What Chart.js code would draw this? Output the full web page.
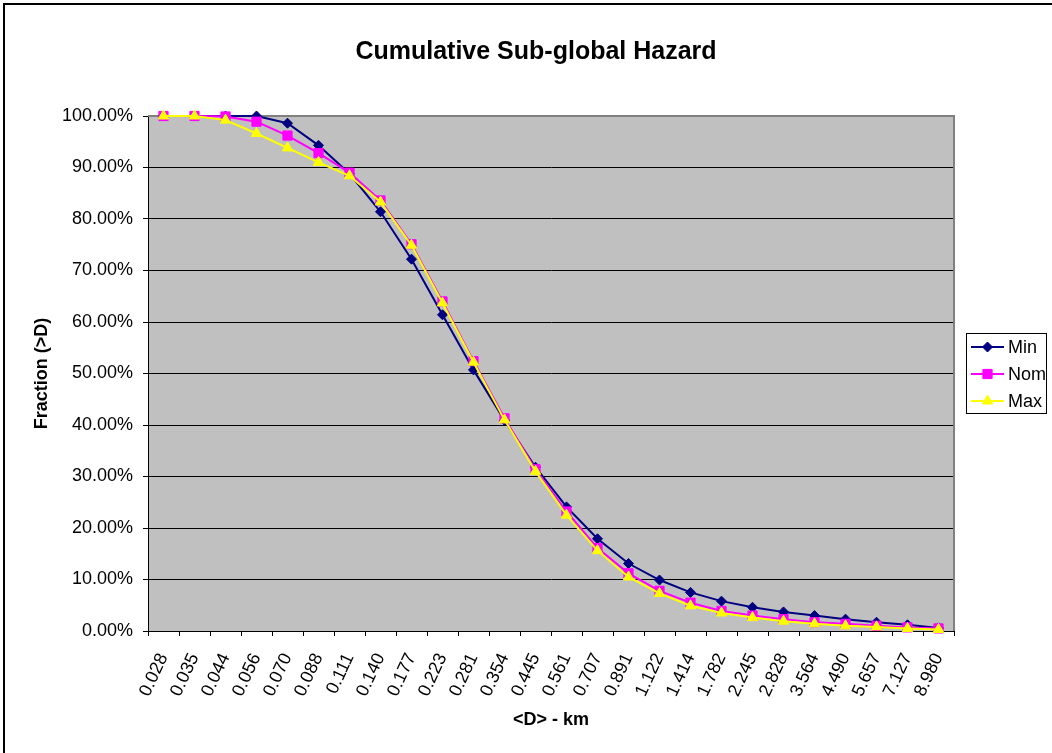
<!DOCTYPE html>
<html>
<head>
<meta charset="utf-8">
<title>Cumulative Sub-global Hazard</title>
<script src="https://cdn.jsdelivr.net/npm/chart.js@4.4.1/dist/chart.umd.min.js"></script>
<style>
  html, body { margin: 0; padding: 0; background: #fff; }
  #wrap { width: 1052px; height: 753px; }
</style>
</head>
<body>
<div id="wrap"><canvas id="hazard-chart" width="1052" height="753"></canvas></div>
<script>
const FONT = '"Liberation Sans", Arial, Helvetica, sans-serif';
const TITLE = 'Cumulative Sub-global Hazard';

// diameter bins, km
const diameters = ['0.028', '0.035', '0.044', '0.056', '0.070', '0.088', '0.111', '0.140', '0.177',
  '0.223', '0.281', '0.354', '0.445', '0.561', '0.707', '0.891', '1.122', '1.414', '1.782',
  '2.245', '2.828', '3.564', '4.490', '5.657', '7.127', '8.980'];

// fraction of impactors larger than D, percent
const minFraction = [100, 100, 100, 100, 98.6, 94.3, 88.8, 81.4, 72.2, 61.4, 50.7, 40.9, 31.8,
  24.1, 17.9, 13.1, 9.9, 7.5, 5.8, 4.6, 3.7, 3.0, 2.3, 1.7, 1.2, 0.6];
const nomFraction = [100, 100, 99.9, 98.9, 96.2, 92.8, 89.0, 83.6, 75.1, 64.0, 52.4, 41.3, 31.4,
  23.2, 16.1, 11.2, 7.8, 5.5, 3.9, 3.0, 2.3, 1.7, 1.4, 1.0, 0.7, 0.5];
const maxFraction = [100, 100, 99.2, 96.6, 93.8, 91.0, 88.4, 83.3, 74.9, 63.7, 52.2, 41.0, 31.0,
  22.5, 15.6, 10.5, 7.3, 4.9, 3.5, 2.6, 1.9, 1.4, 1.0, 0.8, 0.5, 0.3];

const yTicks = [0, 10, 20, 30, 40, 50, 60, 70, 80, 90, 100];

const series = [
  { label: 'Min', data: minFraction, color: '#000080', style: 'rectRot', radius: 5, order: 2 },
  { label: 'Nom', data: nomFraction, color: '#FF00FF', style: 'rect', radius: 6.5, order: 1 },
  { label: 'Max', data: maxFraction, color: '#FFFF00', style: 'triangle', radius: 6, order: 0 },
];

// white page with the frame line on the left and top, plus the title
const framePlugin = {
  id: 'frame',
  beforeDraw(chart) {
    const { ctx, width, height } = chart;
    ctx.save();
    ctx.fillStyle = '#fff';
    ctx.fillRect(0, 0, width, height);
    ctx.strokeStyle = '#000';
    ctx.lineWidth = 2;
    ctx.beginPath();
    ctx.moveTo(4, height);
    ctx.lineTo(4, 4);
    ctx.lineTo(width, 4);
    ctx.stroke();
    ctx.fillStyle = '#000';
    ctx.font = 'bold 25px ' + FONT;
    ctx.textAlign = 'center';
    ctx.textBaseline = 'middle';
    ctx.fillText(TITLE, 536, 52);
    ctx.restore();
  },
};

// grey plot area, grey border on top and right
const plotAreaPlugin = {
  id: 'plotArea',
  beforeDraw(chart) {
    const { ctx, chartArea: a } = chart;
    ctx.save();
    ctx.fillStyle = '#C0C0C0';
    ctx.fillRect(a.left, a.top, a.right - a.left, a.bottom - a.top);
    ctx.restore();
  },
  beforeDatasetsDraw(chart) {
    const { ctx, chartArea: a } = chart;
    ctx.save();
    ctx.strokeStyle = '#808080';
    ctx.lineWidth = 2;
    ctx.beginPath();
    ctx.moveTo(a.left, a.top);
    ctx.lineTo(a.right, a.top);
    ctx.lineTo(a.right, a.bottom);
    ctx.stroke();
    ctx.restore();
  },
};

// boxed legend to the right of the plot
const boxLegendPlugin = {
  id: 'boxLegend',
  afterDraw(chart) {
    const { ctx } = chart;
    const box = { x: 966, y: 333, w: 80, h: 80 };
    ctx.save();
    ctx.fillStyle = '#fff';
    ctx.fillRect(box.x, box.y, box.w, box.h);
    ctx.strokeStyle = '#000';
    ctx.lineWidth = 1;
    ctx.strokeRect(box.x + 0.5, box.y + 0.5, box.w, box.h);
    ctx.font = '18px ' + FONT;
    ctx.textBaseline = 'middle';
    ctx.textAlign = 'left';
    chart.data.datasets.forEach((ds, i) => {
      const y = box.y + 14 + i * 27;
      ctx.strokeStyle = ds.borderColor;
      ctx.lineWidth = 2;
      ctx.beginPath();
      ctx.moveTo(971, y);
      ctx.lineTo(1004, y);
      ctx.stroke();
      ctx.fillStyle = ds.pointBackgroundColor;
      ctx.strokeStyle = ds.pointBorderColor;
      ctx.lineWidth = 1;
      Chart.helpers.drawPoint(ctx, { pointStyle: ds.pointStyle, radius: ds.pointRadius, rotation: 0, borderWidth: 1 }, 987.5, y);
      ctx.fillStyle = '#000';
      ctx.fillText(ds.label, 1008, y + 1);
    });
    ctx.restore();
  },
};

const datasets = series.map((s) => ({
  label: s.label,
  data: s.data,
  borderColor: s.color,
  backgroundColor: s.color,
  pointBackgroundColor: s.color,
  pointBorderColor: s.color,
  pointStyle: s.style,
  pointRadius: s.radius,
  pointBorderWidth: 1,
  borderWidth: 2,
  tension: 0,
  fill: false,
  clip: 10,
  order: s.order,
}));

const ctx = document.getElementById('hazard-chart').getContext('2d');
new Chart(ctx, {
  type: 'line',
  data: { labels: diameters, datasets },
  options: {
    responsive: false,
    animation: false,
    devicePixelRatio: 1,
    layout: { padding: { left: 0, right: 98, top: 116, bottom: 0 } },
    plugins: {
      legend: { display: false },
      tooltip: { enabled: false },
      title: { display: false },
    },
    scales: {
      x: {
        type: 'category',
        offset: true,
        afterFit(scale) { scale.height = 122; },
        grid: {
          display: true,
          offset: true,
          drawOnChartArea: false,
          drawTicks: true,
          tickLength: 5,
          color: '#000',
        },
        border: { display: true, color: '#000', width: 1 },
        ticks: {
          color: '#000',
          font: { family: FONT, size: 18 },
          minRotation: 65,
          maxRotation: 65,
          autoSkip: false,
          padding: 14,
        },
        title: {
          display: true,
          text: '<D> - km',
          color: '#000',
          font: { family: FONT, size: 18, weight: 'bold', lineHeight: 1.2 },
          padding: { top: 0, bottom: 22 },
        },
      },
      y: {
        min: 0,
        max: 100,
        afterFit(scale) { scale.width = 148; },
        afterBuildTicks(scale) { scale.ticks = yTicks.map((v) => ({ value: v })); },
        grid: {
          color: '#000',
          lineWidth: 1,
          drawTicks: true,
          tickLength: 5,
        },
        border: { display: true, color: '#000', width: 1 },
        ticks: {
          color: '#000',
          font: { family: FONT, size: 18 },
          padding: 10,
          callback: (v) => v.toFixed(2) + '%',
        },
        title: {
          display: true,
          text: 'Fraction (>D)',
          color: '#000',
          font: { family: FONT, size: 18, weight: 'bold', lineHeight: 1.2 },
          padding: { top: 31, bottom: 0 },
        },
      },
    },
  },
  plugins: [framePlugin, plotAreaPlugin, boxLegendPlugin],
});
</script>
</body>
</html>
